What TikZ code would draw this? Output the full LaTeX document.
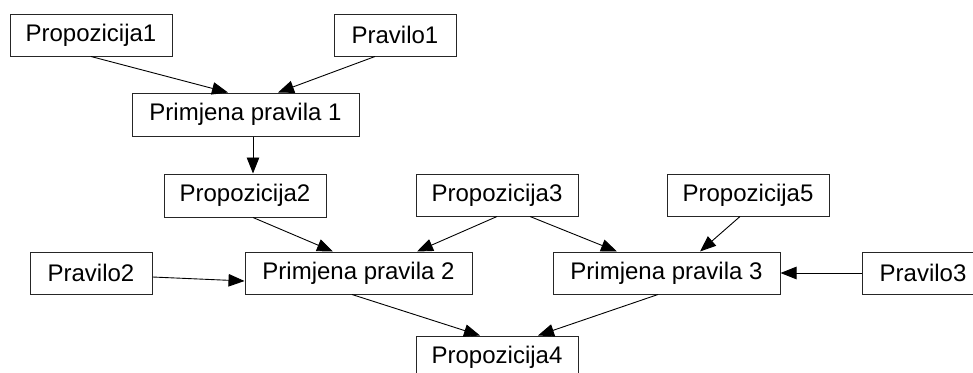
\documentclass[tikz,border=0pt]{standalone}
\usepackage{fontspec}
\setmainfont{Liberation Sans}
\usetikzlibrary{calc,arrows.meta}
\begin{document}
\begin{tikzpicture}[x=1pt,y=-1pt,
  box/.style={draw=black!85,line width=1pt,fill=white,inner sep=0pt,
    minimum height=42pt,font=\fontsize{24}{28}\selectfont},
  wide/.style={box,minimum width=227pt},
  mid/.style={box,minimum width=162pt},
  short/.style={box,minimum width=122pt},
  link/.style={line width=0.9pt,-{Triangle[length=16pt,width=12.5pt]}}]
\useasboundingbox (0,0) rectangle (973,372);
\clip (0,0) rectangle (973,372);
\fill[white] (0,0) rectangle (973,372);

% premises and rules
\node[mid]   (p1)  at (91,35)    {Propozicija1};
\node[short] (r1)  at (395,35)   {Pravilo1};
\node[wide,minimum height=43pt] (pp1) at (245.5,114.5) {Primjena pravila 1};
\node[mid,minimum height=43pt] (p2)  at (245,195.5) {Propozicija2};
\node[mid]   (p3)  at (497,195)  {Propozicija3};
\node[mid]   (p5)  at (748,195)  {Propozicija5};
\node[short] (r2)  at (91,273)   {Pravilo2};
\node[wide]  (pp2) at (358.5,273) {Primjena pravila 2};
\node[wide]  (pp3) at (666.5,273) {Primjena pravila 3};
\node[short] (r3)  at (923,273)  {Pravilo3};
\node[mid]   (p4)  at (497,357)  {Propozicija4};

% inference steps
\draw[link] (p1.south) -- ($(pp1.north)+(-17.5,0)$);
\draw[link] ($(r1.south)+(-20,0)$) -- ($(pp1.north)+(32.5,0)$);
\draw[link] ($(pp1.south)+(7.5,0)$) -- ($(p2.north)+(8,0)$);
\draw[link] ($(p2.south)+(8,0)$) -- ($(pp2.north)+(-25.5,0)$);
\draw[link] (p3.south) -- ($(pp2.north)+(58.5,0)$);
\draw[link] ($(p3.south)+(33,0)$) -- ($(pp3.north)+(-49.5,0)$);
\draw[link] ($(p5.south)+(-8,0)$) -- ($(pp3.north)+(33.5,0)$);
\draw[link] ($(r2.east)+(0,4)$) -- ($(pp2.west)+(0,8)$);
\draw[link] (r3.west) -- (pp3.east);
\draw[link] ($(pp2.south)+(-6.5,0)$) -- ($(p4.north)+(-17,0)$);
\draw[link] ($(pp3.south)+(-8.5,0)$) -- ($(p4.north)+(41,0)$);
\end{tikzpicture}
\end{document}
